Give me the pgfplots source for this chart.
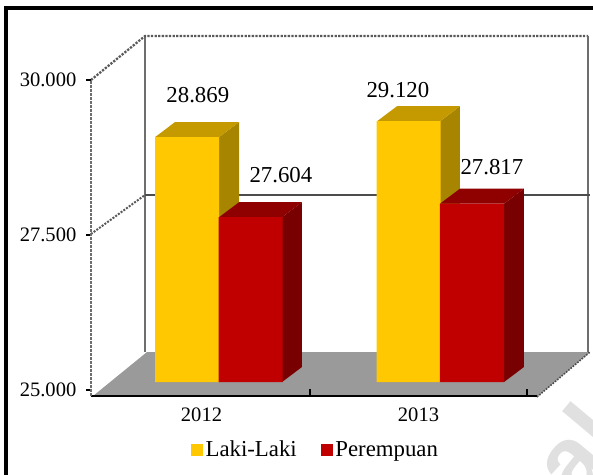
\documentclass[border=0pt]{standalone}
\usepackage{pgfplots}
\usepackage{fontspec}
\setmainfont{Liberation Serif}
\setsansfont{Liberation Sans}
\pgfplotsset{compat=1.18}
\definecolor{yfront}{HTML}{FFC800}
\definecolor{ytop}{HTML}{C49A00}
\definecolor{yside}{HTML}{A88500}
\definecolor{rfront}{HTML}{C00000}
\definecolor{rtop}{HTML}{8F0000}
\definecolor{rside}{HTML}{780000}
\definecolor{floorc}{HTML}{9A9A9A}
\definecolor{wallc}{HTML}{6E6E6E}
\newcommand{\fa}{\fontsize{15.4}{18}\selectfont}
\newcommand{\fb}{\fontsize{17.1}{20}\selectfont}
\begin{document}
\begin{tikzpicture}
\begin{scope}[x=0.75pt,y=-0.75pt]
\path[use as bounding box] (0,0) rectangle (593,475);
\begin{scope}
\clip (0,0) rectangle (593,475);
\node[rotate=50,text=black!12,font=\sffamily\bfseries\fontsize{72}{80}\selectfont,anchor=center] at (566,462) {bak};
\draw[black,line width=2.6pt] (6,475) -- (6,8) -- (593,8);
\end{scope}
% walls and floor of the chart box
\draw[wallc,line width=1pt] (145,36) -- (145,352);
\draw[black!65,line width=1.7pt,densely dotted] (91,80) -- (145,36) -- (588,36);
\draw[wallc,line width=1.4pt] (588,36) -- (588,353);
\draw[black!70,line width=1.5pt] (145,195) -- (590,195);
\draw[black!65,line width=1.5pt,densely dotted] (91,234) -- (145,195);
\fill[floorc] (93,396) -- (147,352) -- (590,352) -- (537,397) -- cycle;
\draw[black!70,line width=1.2pt,densely dotted] (537,397) -- (590,352);
\end{scope}
% frame axis
\begin{axis}[
  at={(68.25pt,-297pt)}, anchor=south west,
  scale only axis, width=334.5pt, height=237pt,
  xmin=-0.0092, xmax=2.046, ymin=24903.2, ymax=30000,
  axis x line*=bottom, axis y line*=left,
  axis line style={-},
  x axis line style={black,line width=1.9pt},
  y axis line style={wallc,line width=2pt,densely dotted},
  ytick={25000,27500,30000},
  scaled y ticks=false,
  yticklabel style={/pgf/number format/.cd,1000 sep={.},min exponent for 1000 sep=0,assume math mode=true},
  tick label style={font=\fa,text=black},
  ytick style={black,line width=2pt},
  tick align=outside, major tick length=3.5pt,
  yticklabel shift=4pt,
  xtick={0.5,1.5}, xticklabels={2012,2013},
  x tick style={draw=none},
  xticklabel shift=2pt,
  extra x ticks={1,2}, extra x tick labels={},
  extra x tick style={tick align=inside, major tick length=5pt,
     x tick style={draw=black,line width=2pt}},
]
\end{axis}
% bars
\begin{axis}[
  at={(68.25pt,-286.5pt)}, anchor=south west,
  scale only axis, width=334.5pt, height=226.5pt,
  xmin=-0.0092, xmax=2.046, ymin=25000, ymax=29771,
  hide axis, clip=false,
  legend columns=2,
  legend style={at={(0.504,-0.225)},anchor=center,draw=none,fill=none,font=\fb,
     /tikz/every even column/.style={column sep=16pt},inner sep=0pt},
  legend cell align=left,
]
% Laki-Laki 2012
\addplot[forget plot,fill=yside,draw=none] coordinates {(0.581,25000)(0.673,25237)(0.673,29106)(0.581,28869)} --cycle;
\addplot[forget plot,fill=ytop,draw=none] coordinates {(0.286,28869)(0.581,28869)(0.673,29106)(0.378,29106)} --cycle;
% Laki-Laki 2013
\addplot[forget plot,fill=yside,draw=none] coordinates {(1.599,25000)(1.691,25237)(1.691,29357)(1.599,29120)} --cycle;
\addplot[forget plot,fill=ytop,draw=none] coordinates {(1.309,29120)(1.599,29120)(1.691,29357)(1.401,29357)} --cycle;
% Laki-Laki front faces
\addplot[ybar,bar width=0.295,bar shift=0pt,fill=yfront,draw=none,
  legend image code/.code={\fill[yfront] (0pt,-4.5pt) rectangle (9pt,4.5pt);}]
  coordinates {(0.4335,28869)(1.454,29120)};
\addlegendentry{Laki-Laki}
% Perempuan 2012
\addplot[forget plot,fill=rside,draw=none] coordinates {(0.871,25000)(0.963,25237)(0.963,27841)(0.871,27604)} --cycle;
\addplot[forget plot,fill=rtop,draw=none] coordinates {(0.581,27604)(0.871,27604)(0.963,27841)(0.673,27841)} --cycle;
% Perempuan 2013
\addplot[forget plot,fill=rside,draw=none] coordinates {(1.894,25000)(1.986,25237)(1.986,28054)(1.894,27817)} --cycle;
\addplot[forget plot,fill=rtop,draw=none] coordinates {(1.599,27817)(1.894,27817)(1.986,28054)(1.691,28054)} --cycle;
% Perempuan front faces
\addplot[ybar,bar width=0.295,bar shift=0pt,fill=rfront,draw=none,
  legend image code/.code={\fill[rfront] (0pt,-4.5pt) rectangle (9pt,4.5pt);}]
  coordinates {(0.726,27604)(1.7465,27817)};
\addlegendentry{Perempuan}
\node[font=\fb,text=black] at (axis cs:0.483,29528) {28.869};
\node[font=\fb,text=black] at (axis cs:0.866,28263) {27.604};
\node[font=\fb,text=black] at (axis cs:1.405,29608) {29.120};
\node[font=\fb,text=black] at (axis cs:1.838,28388) {27.817};
\end{axis}
\end{tikzpicture}
\end{document}
